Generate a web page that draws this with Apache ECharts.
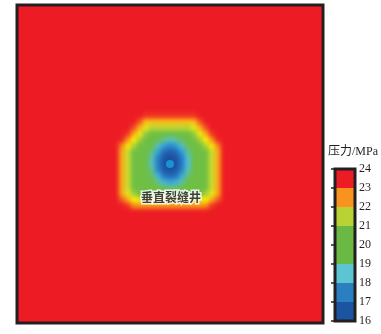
<!DOCTYPE html>
<html><head><meta charset="utf-8">
<script src="https://cdn.jsdelivr.net/npm/echarts@6/dist/echarts.min.js"></script>
<style>
html,body{margin:0;padding:0;background:#fff}
#root{position:relative;width:381px;height:334px;overflow:hidden}
#clip{position:absolute;left:17px;top:5px;width:306px;height:318px;overflow:hidden}
#field{position:absolute;left:-12px;top:-12px;width:330px;height:342px;filter:blur(2.2px)}
#main{position:absolute;left:0;top:0;width:381px;height:334px}
</style>
</head><body><div id="root"><div id="clip"><div id="field"></div></div><div id="main"></div></div>
<script>
// grid of pressure cells (columns x rows); cells outside the patch read as 24 MPa (red)
const nCols = 51, nRows = 53;
const baseValue = 24;
const patchColStart = 17, patchRowStart = 18;
const patch = [
  [24,24,24,24,23.8,23.8,23.8,23.8,23.8,23.8,23.8,23.8,23.8,24,24,24,24],
  [24,24,24,23.5,22.6,22.6,22.6,22.6,22.6,22.6,22.6,22.6,22.6,23.5,24,24,24],
  [24,24,23.6,22.7,21.7,21.2,21.2,21.2,21.2,21.2,21.2,21.2,21.7,22.7,23.6,24,24],
  [24,23.8,22.8,21.8,20.8,20.2,20.2,20.1,20.0,20.1,20.1,20.2,20.8,21.8,22.8,23.8,24],
  [23.9,23.0,22.0,21.0,20.2,20.1,20.0,19.5,19.2,19.4,19.9,20.1,20.2,21.0,22.0,23.0,23.9],
  [23.1,22.1,21.1,20.2,20.2,20.0,19.2,18.4,18.0,18.3,19.1,19.9,20.2,20.2,21.1,22.1,23.1],
  [22.8,21.4,20.3,20.2,20.1,19.6,18.5,17.3,16.9,17.2,18.3,19.4,20.1,20.2,20.3,21.4,22.8],
  [22.8,21.4,20.2,20.2,20.1,19.3,17.9,16.6,16.2,16.5,17.7,19.1,20.0,20.2,20.2,21.4,22.8],
  [22.8,21.4,20.2,20.2,20.1,19.2,17.8,16.5,16.0,16.3,17.6,19.0,20.0,20.2,20.2,21.4,22.8],
  [22.8,21.4,20.2,20.2,20.1,19.4,18.0,16.7,16.4,16.6,17.9,19.2,20.1,20.2,20.2,21.4,22.8],
  [22.8,21.4,20.2,20.2,20.2,19.8,18.8,17.6,17.1,17.4,18.6,19.6,20.1,20.2,20.2,21.4,22.8],
  [22.8,21.4,20.2,20.2,20.2,20.1,19.5,18.8,18.5,18.7,19.3,20.0,20.2,20.2,20.2,21.4,22.8],
  [22.8,21.4,20.2,20.2,20.2,20.2,20.1,19.8,19.6,19.7,20.0,20.2,20.2,20.2,20.2,21.4,22.8],
  [22.8,21.7,21.0,20.3,20.3,20.3,20.2,20.1,20.1,20.1,20.2,20.3,20.3,20.3,21.0,21.7,22.8],
  [23.5,22.8,22.0,21.7,21.7,21.7,21.7,21.7,21.7,21.7,21.7,21.7,21.7,21.7,22.0,22.8,23.5],
  [24,23.8,23.1,23.0,23.0,23.0,23.0,23.0,23.0,23.0,23.0,23.0,23.0,23.0,23.1,23.8,24]
];
const wellCell = [25, 26];
const wellLabel = '垂直裂缝井';
const colorbarBounds = [16, 17, 18, 19, 21, 22, 23, 24];
const colorbarMin = 16, colorbarMax = 24;
const colorbarTitle = '压力/MPa';

// styles (field colour stops every 0.5 MPa from 16 to 24)
const fieldColors = ['#1B4A99','#1D54A4','#2162B0','#2674BE','#2A88CC','#36A5DC','#4CBEE2','#62C288',
  '#6DBE45','#74C044','#A4CE39','#D6E12A','#FFF200','#FCC717','#F7941D','#F25A22','#ED1C24'];
const colorbarColors = ['#1B55A2','#2A7FC1','#5CC5D2','#6BB945','#B9D234','#F7931E','#ED1C24'];
const frameColor = '#231F20';
const fieldBg = '#ED1C24';

const xCats = [], yCats = [];
for (let i = 0; i < nCols; i++) xCats.push(i);
for (let j = 0; j < nRows; j++) yCats.push(j);
const heat = [];
for (let r = 0; r < nRows; r++) {
  for (let c = 0; c < nCols; c++) {
    const pr = r - patchRowStart, pc = c - patchColStart;
    let v = baseValue;
    if (pr >= 0 && pr < patch.length && pc >= 0 && pc < patch[pr].length) v = patch[pr][pc];
    heat.push([c, r, v]);
  }
}
const cbData = [];
for (let i = 0; i < colorbarBounds.length - 1; i++) cbData.push([colorbarBounds[i], colorbarBounds[i + 1], i]);

// pressure field (softened layer)
const field = echarts.init(document.getElementById('field'), null, {renderer: 'canvas'});
field.setOption({
  animation: false,
  backgroundColor: fieldBg,
  grid: {left: 12, top: 12, width: 306, height: 318},
  xAxis: {type: 'category', data: xCats, show: false},
  yAxis: {type: 'category', data: yCats, inverse: true, show: false},
  visualMap: {type: 'continuous', show: false, min: colorbarMin, max: colorbarMax, inRange: {color: fieldColors}},
  series: [{type: 'heatmap', data: heat, emphasis: {disabled: true}, progressive: 0}]
});

// frame, well, label and colour bar
const chart = echarts.init(document.getElementById('main'), null, {renderer: 'canvas'});
chart.setOption({
  animation: false,
  title: {
    text: colorbarTitle, left: 328, top: 146, padding: 0,
    textStyle: {fontFamily: 'Liberation Serif, "Noto Sans CJK SC"', fontSize: 12, fontWeight: 'normal', color: frameColor}
  },
  grid: [
    {left: 17, top: 5, width: 306, height: 318, show: true, borderColor: frameColor, borderWidth: 3, backgroundColor: 'transparent', z: 10},
    {left: 335, top: 169, width: 20, height: 152, show: true, borderColor: frameColor, borderWidth: 3, backgroundColor: 'transparent', z: 10}
  ],
  xAxis: [
    {type: 'category', gridIndex: 0, data: xCats, show: false},
    {type: 'value', gridIndex: 1, min: 0, max: 1, show: false}
  ],
  yAxis: [
    {type: 'category', gridIndex: 0, data: yCats, inverse: true, show: false},
    {type: 'value', gridIndex: 1, min: colorbarMin, max: colorbarMax, interval: 1, position: 'right',
     axisLine: {show: false}, splitLine: {show: false},
     axisTick: {show: true, inside: true, length: 4, lineStyle: {color: frameColor, width: 1.5}},
     axisLabel: {margin: 4, fontFamily: 'Liberation Serif', fontSize: 12, color: frameColor}, z: 11}
  ],
  series: [
    {type: 'scatter', xAxisIndex: 0, yAxisIndex: 0, data: [wellCell], symbol: 'circle', symbolSize: 8,
     itemStyle: {color: '#1CA3E0'}, z: 5,
     label: {show: true, formatter: wellLabel, position: 'inside', offset: [1, 33],
       fontFamily: '"Noto Sans CJK SC"', fontSize: 12, fontWeight: 'bold', color: '#111', textBorderColor: '#fff', textBorderWidth: 3}},
    {type: 'custom', xAxisIndex: 1, yAxisIndex: 1, data: cbData, z: 3,
     renderItem: function (params, api) {
       const p0 = api.coord([0, api.value(0)]);
       const p1 = api.coord([1, api.value(1)]);
       return {type: 'rect', shape: {x: p0[0], y: p1[1], width: p1[0] - p0[0], height: p0[1] - p1[1]},
               style: {fill: colorbarColors[api.value(2)]}};
     }}
  ]
});
</script></body></html>
